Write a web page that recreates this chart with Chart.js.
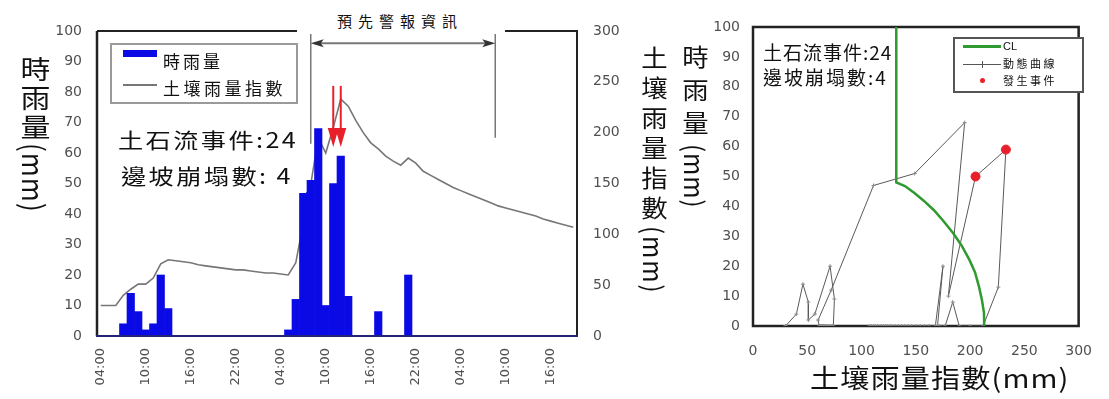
<!DOCTYPE html>
<html lang="zh-Hant">
<head>
<meta charset="utf-8">
<title>時雨量與土壤雨量指數</title>
<script src="https://cdn.jsdelivr.net/npm/chart.js@4.4.1/dist/chart.umd.min.js"></script>
<style>
  html, body { margin:0; padding:0; background:#fff; }
  #stage { position:relative; width:1109px; height:399px; overflow:hidden; background:#fff; }
  canvas { position:absolute; top:0; }
  #left { left:0; }
  #right { left:680px; }
  .t { position:absolute; font-family:"Noto Sans CJK TC","Noto Sans CJK SC",sans-serif; color:#111; white-space:nowrap; line-height:1; }
  .v { writing-mode:vertical-rl; text-orientation:mixed; }
  .blk { position:absolute; background:#fff; }
</style>
</head>
<body>
<div id="stage">
  <canvas id="left" width="680" height="399"></canvas>
  <canvas id="right" width="429" height="399"></canvas>

  <!-- left panel: axis titles -->
  <div class="t v" style="left:22px;top:56px;font-size:26px;letter-spacing:3px;transform:scaleX(1.15)">時雨量<span style="letter-spacing:1px">(mm)</span></div>
  <div class="t v" style="left:642px;top:46px;font-size:24px;letter-spacing:6px;transform:scaleX(1.1)">土壤雨量指數<span style="letter-spacing:2px">(mm)</span></div>

  <!-- left panel: warning period caption -->
  <div class="blk" style="left:297px;top:0;width:208px;height:34px"></div>
  <div class="t" style="left:337px;top:13px;font-size:15px;letter-spacing:6px">預先警報資訊</div>

  <!-- left panel: legend -->
  <div class="blk" style="left:110px;top:43px;width:184px;height:57px;border:2px solid #9a9a9a;background:transparent"></div>
  <div class="blk" style="left:123px;top:50px;width:34px;height:7px;background:#0a0ae6"></div>
  <div class="t" style="left:163px;top:52px;font-size:17px;letter-spacing:3px">時雨量</div>
  <div class="blk" style="left:123px;top:84px;width:34px;height:2px;background:#777"></div>
  <div class="t" style="left:163px;top:79px;font-size:17px;letter-spacing:3.5px">土壤雨量指數</div>

  <!-- left panel: event counts -->
  <div class="blk" style="left:108px;top:117px;width:198px;height:76px"></div>
  <div class="t" style="left:118px;top:129px;font-size:21px;letter-spacing:2px;transform:scaleX(1.2);transform-origin:left center">土石流事件:24</div>
  <div class="t" style="left:121px;top:165px;font-size:21px;letter-spacing:2px;transform:scaleX(1.2);transform-origin:left center">邊坡崩塌數: 4</div>

  <!-- right panel: axis titles -->
  <div class="t v" style="left:683px;top:45px;font-size:24px;letter-spacing:9px;transform:scaleX(1.1)">時雨量<span style="letter-spacing:1px">(mm)</span></div>
  <div class="t" style="left:810px;top:364px;font-size:26px;letter-spacing:1px;transform:scaleX(1.12);transform-origin:left center">土壤雨量指數(mm)</div>

  <!-- right panel: event counts -->
  <div class="t" style="left:763px;top:42px;font-size:19px;letter-spacing:1px">土石流事件:24</div>
  <div class="t" style="left:763px;top:67px;font-size:19px;letter-spacing:2px">邊坡崩塌數:4</div>

  <!-- right panel: legend -->
  <div class="blk" style="left:953px;top:37px;width:127px;height:52px;border:2px solid #555"></div>
  <div class="blk" style="left:963px;top:45px;width:38px;height:3px;background:#2f9a2f"></div>
  <div class="t" style="left:1003px;top:41px;font-size:11px;font-family:'Liberation Sans',sans-serif">CL</div>
  <div class="blk" style="left:963px;top:64px;width:38px;height:1px;background:#555"></div>
  <div class="blk" style="left:982px;top:61px;width:1px;height:7px;background:#555"></div>
  <div class="t" style="left:1003px;top:58px;font-size:11px;letter-spacing:2.5px">動態曲線</div>
  <div class="blk" style="left:980px;top:78px;width:5px;height:5px;border-radius:50%;background:#e8202a"></div>
  <div class="t" style="left:1003px;top:75px;font-size:11px;letter-spacing:2.5px">發生事件</div>
</div>

<script>
// hourly time axis, three days starting 04:00
const hours = [
  "04:00","05:00","06:00","07:00","08:00","09:00","10:00","11:00","12:00","13:00","14:00","15:00",
  "16:00","17:00","18:00","19:00","20:00","21:00","22:00","23:00","00:00","01:00","02:00","03:00",
  "04:00","05:00","06:00","07:00","08:00","09:00","10:00","11:00","12:00","13:00","14:00","15:00",
  "16:00","17:00","18:00","19:00","20:00","21:00","22:00","23:00","00:00","01:00","02:00","03:00",
  "04:00","05:00","06:00","07:00","08:00","09:00","10:00","11:00","12:00","13:00","14:00","15:00",
  "16:00","17:00","18:00","19:00"
];
const tickEvery = 6;

// 時雨量 (mm/hr)
const rain = [
  0, 0, 0, 4, 14, 8, 2, 4,
  20, 9, 0, 0, 0, 0, 0, 0,
  0, 0, 0, 0, 0, 0, 0, 0,
  0, 2, 12, 47, 51, 68, 10, 50,
  59, 13, 0, 0, 0, 8, 0, 0,
  0, 20, 0, 0, 0, 0, 0, 0,
  0, 0, 0, 0, 0, 0, 0, 0,
  0, 0, 0, 0, 0, 0, 0, 0
];

// 土壤雨量指數 (mm)
const soil = [
  30, 30, 30, 40, 46, 51, 51, 57,
  71, 75, 74, 73, 72, 70, 69, 68,
  67, 66, 65, 65, 64, 63, 62, 62,
  61, 60, 72, 111, 149, 195, 180, 205,
  233, 226, 212, 200, 190, 184, 177, 172,
  168, 175, 170, 162, 158, 154, 150, 146,
  143, 140, 137, 134, 131, 128, 126, 124,
  122, 120, 118, 115, 113, 111, 109, 107
];

// hours (index on the time axis) at which debris flows occurred
const eventHours = [31, 32];
// warning period, start and end on the time axis
const warnPeriod = [28, 52.6];

// critical line (CL): soil index vs hourly rainfall
const clX = [132, 132, 140, 148.7, 157, 166.5, 175, 184.3, 192, 199.4, 204.5, 208.3, 211, 212.8, 213];
const clY = [100, 48, 46.8, 44.5, 42, 38.8, 35.3, 31.1, 27, 22.1, 18, 13, 8.5, 4.3, 0];

// axis ranges / tick steps
const rainAxis = { min: 0, max: 100, step: 10 };
const soilAxis = { min: 0, max: 300, step: 50 };

const tickFont = { family: 'DejaVu Sans', size: 14 };
const tickColor = '#505050';

// ---------- left panel: hyetograph + soil rainfall index ----------
const leftFrame = {
  id: 'leftFrame',
  afterDatasetsDraw(chart) {
    const { ctx, chartArea: a } = chart;
    ctx.save();
    ctx.strokeStyle = '#222';
    ctx.lineWidth = 2.5;
    ctx.beginPath(); ctx.moveTo(a.left, a.bottom); ctx.lineTo(a.left, a.top); ctx.stroke();
    ctx.lineWidth = 2;
    ctx.beginPath(); ctx.moveTo(a.left, a.top); ctx.lineTo(a.right, a.top); ctx.lineTo(a.right, a.bottom); ctx.stroke();
    ctx.strokeStyle = '#23237a';
    ctx.beginPath(); ctx.moveTo(a.left - 1, a.bottom); ctx.lineTo(a.right + 1, a.bottom); ctx.stroke();
    ctx.restore();
  }
};

const warningMarks = {
  id: 'warningMarks',
  afterDatasetsDraw(chart) {
    const { ctx, scales: { x, y } } = chart;
    ctx.save();
    // warning period: bracket lines and double arrow
    const xs = x.getPixelForValue(warnPeriod[0]);
    const xe = x.getPixelForValue(warnPeriod[1]);
    const ya = y.getPixelForValue(96);
    ctx.strokeStyle = '#777';
    ctx.lineWidth = 1.5;
    ctx.beginPath();
    ctx.moveTo(xs, y.getPixelForValue(99)); ctx.lineTo(xs, y.getPixelForValue(63));
    ctx.moveTo(xe, y.getPixelForValue(99)); ctx.lineTo(xe, y.getPixelForValue(65));
    ctx.stroke();
    ctx.lineWidth = 2;
    ctx.beginPath(); ctx.moveTo(xs + 4, ya); ctx.lineTo(xe - 4, ya); ctx.stroke();
    ctx.fillStyle = '#333';
    ctx.beginPath(); ctx.moveTo(xs, ya); ctx.lineTo(xs + 13, ya - 4); ctx.lineTo(xs + 10, ya); ctx.lineTo(xs + 13, ya + 4); ctx.closePath(); ctx.fill();
    ctx.beginPath(); ctx.moveTo(xe, ya); ctx.lineTo(xe - 13, ya - 4); ctx.lineTo(xe - 10, ya); ctx.lineTo(xe - 13, ya + 4); ctx.closePath(); ctx.fill();
    // debris-flow occurrence arrows
    ctx.strokeStyle = '#e8202a';
    ctx.fillStyle = '#e8202a';
    ctx.lineWidth = 2;
    eventHours.forEach(h => {
      const px = x.getPixelForValue(h);
      const top = y.getPixelForValue(82);
      const tip = y.getPixelForValue(62);
      ctx.beginPath(); ctx.moveTo(px, top); ctx.lineTo(px, tip - 8); ctx.stroke();
      ctx.beginPath(); ctx.moveTo(px - 5.5, tip - 19); ctx.lineTo(px + 5.5, tip - 19); ctx.lineTo(px, tip); ctx.closePath(); ctx.fill();
    });
    ctx.restore();
  }
};

new Chart(document.getElementById('left'), {
  type: 'bar',
  data: {
    labels: hours,
    datasets: [
      {
        type: 'bar', label: '時雨量', data: rain, yAxisID: 'y',
        backgroundColor: '#0a0ae6', borderWidth: 0,
        barPercentage: 1, categoryPercentage: 1, order: 0
      },
      {
        type: 'line', label: '土壤雨量指數', data: soil, yAxisID: 'y1',
        borderColor: '#767676', borderWidth: 1.6, pointRadius: 0, tension: 0, order: 1
      }
    ]
  },
  options: {
    responsive: false, animation: false,
    layout: { padding: { top: 31, left: 0, right: 0, bottom: 0 } },
    plugins: { legend: { display: false }, tooltip: { enabled: false } },
    scales: {
      x: {
        grid: { display: false, drawTicks: false }, border: { display: false },
        ticks: {
          autoSkip: false, minRotation: 90, maxRotation: 90, padding: 12,
          font: { family: 'DejaVu Sans', size: 13 }, color: tickColor,
          callback: (v, i) => (i % tickEvery === 0 ? hours[i] : null)
        },
        afterFit(s) { s.height = 63; }
      },
      y: {
        position: 'left', min: rainAxis.min, max: rainAxis.max,
        grid: { display: false, drawTicks: false }, border: { display: false },
        ticks: { stepSize: rainAxis.step, padding: 15, font: tickFont, color: tickColor },
        afterFit(s) { s.width = 97; }
      },
      y1: {
        position: 'right', min: soilAxis.min, max: soilAxis.max,
        grid: { display: false, drawTicks: false }, border: { display: false },
        ticks: { stepSize: soilAxis.step, padding: 16, font: tickFont, color: tickColor },
        afterFit(s) { s.width = 103; }
      }
    }
  },
  plugins: [leftFrame, warningMarks]
});

// ---------- right panel: soil index vs hourly rainfall ----------
const trajectory = hours.map((_, i) => ({ x: soil[i], y: rain[i] }));
const events = eventHours.map(h => ({ x: soil[h], y: rain[h] }));
const clLine = clX.map((v, i) => ({ x: v, y: clY[i] }));

const rightFrame = {
  id: 'rightFrame',
  beforeDatasetsDraw(chart) {
    const { ctx, chartArea: a } = chart;
    ctx.save();
    ctx.strokeStyle = '#222';
    ctx.lineWidth = 2.5;
    ctx.strokeRect(a.left, a.top, a.right - a.left, a.bottom - a.top);
    ctx.restore();
  }
};

new Chart(document.getElementById('right'), {
  type: 'scatter',
  data: {
    datasets: [
      {
        label: '發生事件', data: events, pointRadius: 4.5, pointHoverRadius: 4.5,
        backgroundColor: '#e8202a', borderColor: '#e8202a', order: 0
      },
      {
        label: 'CL', data: clLine, showLine: true, borderColor: '#2f9a2f', borderWidth: 2.5,
        pointRadius: 0, tension: 0, order: 1
      },
      {
        label: '動態曲線', data: trajectory, showLine: true, borderColor: '#5a5a5a', borderWidth: 1,
        pointStyle: 'cross', pointRadius: 2, pointBorderColor: '#8a8a8a', pointBorderWidth: 1,
        backgroundColor: '#8a8a8a', tension: 0, order: 2
      }
    ]
  },
  options: {
    responsive: false, animation: false,
    layout: { padding: { top: 27, left: 0, right: 19, bottom: 0 } },
    plugins: { legend: { display: false }, tooltip: { enabled: false } },
    scales: {
      x: {
        type: 'linear', min: soilAxis.min, max: soilAxis.max,
        grid: { display: false, drawTicks: false }, border: { display: false },
        ticks: { stepSize: soilAxis.step, padding: 17, font: tickFont, color: tickColor },
        afterFit(s) { s.height = 73; }
      },
      y: {
        min: rainAxis.min, max: rainAxis.max,
        grid: { display: false, drawTicks: false }, border: { display: false },
        ticks: { stepSize: rainAxis.step, padding: 13, font: tickFont, color: tickColor },
        afterFit(s) { s.width = 73; }
      }
    }
  },
  plugins: [rightFrame]
});
</script>
</body>
</html>
